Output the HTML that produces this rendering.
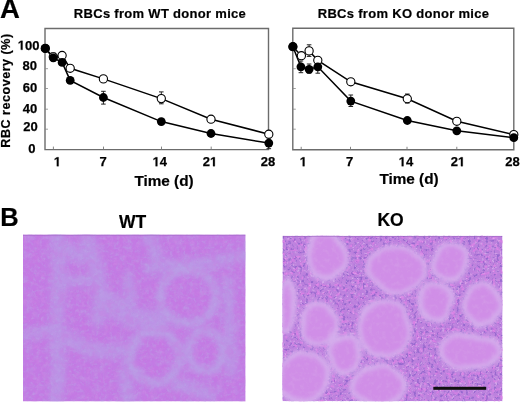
<!DOCTYPE html>
<html><head><meta charset="utf-8"><style>
html,body{margin:0;padding:0;background:#fff;width:520px;height:403px;overflow:hidden}
svg{position:absolute;left:0;top:0;will-change:transform}
text{font-family:"Liberation Sans",sans-serif;font-weight:bold;fill:#000}
</style></head><body>
<svg width="520" height="403" viewBox="0 0 520 403">
<defs>
<clipPath id="cw"><rect x="23" y="234.5" width="222.6" height="167"/></clipPath>
<clipPath id="ck"><rect x="282.5" y="235.8" width="220" height="165.4"/></clipPath>
<filter id="bl" x="-30%" y="-30%" width="160%" height="160%"><feGaussianBlur stdDeviation="2.5"/></filter>
<filter id="bl2" x="-30%" y="-30%" width="160%" height="160%"><feGaussianBlur stdDeviation="3.5"/></filter>
<filter id="nz" x="0" y="0" width="100%" height="100%" color-interpolation-filters="sRGB"><feTurbulence type="fractalNoise" baseFrequency="0.35" numOctaves="2" seed="3"/><feColorMatrix type="matrix" values="0 0 0 0 0.42  0 0 0 0 0.3  0 0 0 0 0.74  -7 0 0 0 3.1"/><feGaussianBlur stdDeviation="0.5"/></filter>
<filter id="nz2" x="0" y="0" width="100%" height="100%" color-interpolation-filters="sRGB"><feTurbulence type="fractalNoise" baseFrequency="0.4" numOctaves="2" seed="7"/><feColorMatrix type="matrix" values="0 0 0 0 0.9  0 0 0 0 0.76  0 0 0 0 0.95  6 0 0 0 -3.6"/></filter>
<filter id="nz4" x="0" y="0" width="100%" height="100%" color-interpolation-filters="sRGB"><feTurbulence type="fractalNoise" baseFrequency="0.25" numOctaves="2" seed="5"/><feColorMatrix type="matrix" values="0 0 0 0 0.85  0 0 0 0 0.5  0 0 0 0 0.9  5 0 0 0 -2.7"/></filter>
<filter id="nz3" x="0" y="0" width="100%" height="100%" color-interpolation-filters="sRGB"><feTurbulence type="fractalNoise" baseFrequency="0.3" numOctaves="2" seed="11"/><feColorMatrix type="matrix" values="0 0 0 0 0.72  0 0 0 0 0.66  0 0 0 0 0.9  5 0 0 0 -2.6"/></filter>
<filter id="nz5" x="0" y="0" width="100%" height="100%" color-interpolation-filters="sRGB"><feTurbulence type="fractalNoise" baseFrequency="0.22" numOctaves="3" seed="17"/><feColorMatrix type="matrix" values="0 0 0 0 0.86  0 0 0 0 0.7  0 0 0 0 0.92  2.5 0 0 0 -1.1"/><feGaussianBlur stdDeviation="0.6"/></filter>
<filter id="nz6" x="0" y="0" width="100%" height="100%" color-interpolation-filters="sRGB"><feTurbulence type="fractalNoise" baseFrequency="0.12" numOctaves="3" seed="21"/><feColorMatrix type="matrix" values="0 0 0 0 0.74  0 0 0 0 0.64  0 0 0 0 0.9  4 0 0 0 -1.9"/></filter>
<filter id="nz7" x="0" y="0" width="100%" height="100%" color-interpolation-filters="sRGB"><feTurbulence type="fractalNoise" baseFrequency="0.12" numOctaves="3" seed="33"/><feColorMatrix type="matrix" values="0 0 0 0 0.8  0 0 0 0 0.46  0 0 0 0 0.88  4 0 0 0 -1.9"/></filter>
<filter id="blw" x="-5%" y="-5%" width="110%" height="110%"><feTurbulence type="fractalNoise" baseFrequency="0.04" numOctaves="2" seed="9" result="t"/><feDisplacementMap in="SourceGraphic" in2="t" scale="9" xChannelSelector="R" yChannelSelector="G"/><feGaussianBlur stdDeviation="2.3"/></filter>
</defs>
<g clip-path="url(#cw)">
<rect x="23" y="234.5" width="222.6" height="167" fill="rgb(195,123,228)"/>
<rect x="23" y="234.5" width="222.6" height="167" filter="url(#nz5)" opacity="0.2"/>
<g filter="url(#bl2)" fill="none" stroke="rgb(184,160,230)" stroke-linecap="round" stroke-linejoin="round" opacity="0.65">
<path d="M57,236 L59,270 L58,300 L56,330 L59,366 L56,402" stroke-width="14"/>
<path d="M86,236 L95,262 L101,290 L98,320" stroke-width="14"/>
<path d="M59,282 L101,280" stroke-width="12"/>
<path d="M66,250 L90,258" stroke-width="16"/>
<path d="M150,268 L200,264 L246,256" stroke-width="13"/>
<path d="M105,300 L132,318 L160,322" stroke-width="21"/>
<path d="M60,335 L95,352 L128,350" stroke-width="15"/>
<path d="M228,282 L231,372" stroke-width="12"/>
<path d="M125,372 L128,402" stroke-width="13"/>
<path d="M176,384 L210,394" stroke-width="15"/>
<path d="M23,336 L50,331" stroke-width="10"/>
<path d="M150,236 L158,262" stroke-width="13"/>
<path d="M128,278 L131,300" stroke-width="12"/>
</g>
<g filter="url(#bl)" fill="none" stroke="rgb(186,160,230)" opacity="0.8">
<ellipse cx="188" cy="296.5" rx="28" ry="27" stroke-width="9"/>
<ellipse cx="155" cy="357" rx="25" ry="26" stroke-width="9"/>
<ellipse cx="206" cy="351" rx="17" ry="20" stroke-width="9"/>
</g>
<rect x="23" y="234.5" width="222.6" height="167" filter="url(#nz3)" opacity="0.3"/>
<rect x="23" y="234.5" width="222.6" height="167" filter="url(#nz6)" opacity="0.25"/>
<rect x="23" y="234.5" width="222.6" height="167" filter="url(#nz7)" opacity="0.25"/>
<rect x="23" y="234.5" width="222.6" height="1.2" fill="rgb(150,95,190)" opacity="0.5"/>
</g>
<g clip-path="url(#ck)">
<rect x="282.5" y="235.8" width="220" height="165.4" fill="rgb(188,128,222)"/>
<rect x="282.5" y="235.8" width="220" height="165.4" filter="url(#nz4)"/>
<rect x="282.5" y="235.8" width="220" height="165.4" filter="url(#nz)" opacity="0.45"/>
<rect x="282.5" y="235.8" width="220" height="165.4" filter="url(#nz2)" opacity="0.55"/>
<g filter="url(#blw)"><ellipse cx="326" cy="255" rx="21.0" ry="25.0" fill="rgb(212,174,236)"/><ellipse cx="397" cy="269" rx="31.0" ry="25.0" fill="rgb(212,174,236)"/><ellipse cx="451" cy="261" rx="20.0" ry="21.0" fill="rgb(212,174,236)"/><ellipse cx="482" cy="304" rx="21.0" ry="24.0" fill="rgb(212,174,236)"/><ellipse cx="436" cy="302" rx="18.0" ry="21.0" fill="rgb(212,174,236)"/><ellipse cx="319" cy="324" rx="19.0" ry="22.0" fill="rgb(212,174,236)"/><ellipse cx="385" cy="329" rx="28.0" ry="31.0" fill="rgb(212,174,236)"/><ellipse cx="470" cy="351" rx="32.5" ry="19.0" fill="rgb(212,174,236)"/><ellipse cx="303" cy="377" rx="27.0" ry="27.0" fill="rgb(212,174,236)"/><ellipse cx="379" cy="386" rx="28.0" ry="22.0" fill="rgb(212,174,236)"/><ellipse cx="344" cy="354" rx="18.0" ry="21.0" fill="rgb(212,174,236)"/><ellipse cx="287" cy="307" rx="10.0" ry="28.0" fill="rgb(212,174,236)"/></g>
<g filter="url(#blw)"><ellipse cx="326" cy="255" rx="16.0" ry="20.0" fill="rgb(208,142,231)"/><ellipse cx="397" cy="269" rx="26.0" ry="20.0" fill="rgb(208,142,231)"/><ellipse cx="451" cy="261" rx="15.0" ry="16.0" fill="rgb(208,142,231)"/><ellipse cx="482" cy="304" rx="16.0" ry="19.0" fill="rgb(208,142,231)"/><ellipse cx="436" cy="302" rx="13.0" ry="16.0" fill="rgb(208,142,231)"/><ellipse cx="319" cy="324" rx="14.0" ry="17.0" fill="rgb(208,142,231)"/><ellipse cx="385" cy="329" rx="23.0" ry="26.0" fill="rgb(208,142,231)"/><ellipse cx="470" cy="351" rx="27.5" ry="14.0" fill="rgb(208,142,231)"/><ellipse cx="303" cy="377" rx="22.0" ry="22.0" fill="rgb(208,142,231)"/><ellipse cx="379" cy="386" rx="23.0" ry="17.0" fill="rgb(208,142,231)"/><ellipse cx="344" cy="354" rx="13.0" ry="16.0" fill="rgb(208,142,231)"/><ellipse cx="287" cy="307" rx="5.0" ry="23.0" fill="rgb(208,142,231)"/></g>
<rect x="282.5" y="235.8" width="220" height="165.4" filter="url(#nz5)" opacity="0.25"/>
<rect x="282.5" y="235.8" width="220" height="1.2" fill="rgb(150,95,190)" opacity="0.5"/>
<rect x="433.3" y="386.8" width="52.9" height="3" fill="#111"/>
</g>
<path d="M45,28.5H268.5V149.6H45Z" fill="none" stroke="#6c6c6c" stroke-width="1.4"/>
<path d="M53.4,149.6v-3" stroke="#777" stroke-width="0.9"/>
<path d="M103.5,149.6v-3" stroke="#777" stroke-width="0.9"/>
<path d="M161.5,149.6v-3" stroke="#777" stroke-width="0.9"/>
<path d="M211.2,149.6v-3" stroke="#777" stroke-width="0.9"/>
<path d="M45,129.2h3" stroke="#888" stroke-width="0.8"/>
<path d="M45,109.2h3" stroke="#888" stroke-width="0.8"/>
<path d="M45,88.5h3" stroke="#888" stroke-width="0.8"/>
<path d="M45,68.7h3" stroke="#888" stroke-width="0.8"/>
<path d="M53.3,53V61M51.0,53h4.6M51.0,61h4.6" stroke="#222" stroke-width="1" fill="none"/>
<path d="M103.4,91.3V104.1M101.10000000000001,91.3h4.6M101.10000000000001,104.1h4.6" stroke="#222" stroke-width="1" fill="none"/>
<path d="M161.3,91.9V103.8M159.0,91.9h4.6M159.0,103.8h4.6" stroke="#222" stroke-width="1" fill="none"/>
<path d="M268.8,138V148.7M266.5,138h4.6M266.5,148.7h4.6" stroke="#222" stroke-width="1" fill="none"/>
<polyline points="45.3,48.4 53.3,56.8 62.1,55.5 70.2,68.3 103.4,78.9 161.3,98.6 211,119.2 268.8,134.2" fill="none" stroke="#000" stroke-width="1.5"/>
<polyline points="45.3,48.4 53.3,57.8 62.1,62.4 70.2,80.4 103.4,97.5 161.3,121.6 211,133.5 268.8,143.1" fill="none" stroke="#000" stroke-width="1.5"/>
<circle cx="45.3" cy="48.4" r="4.1" fill="#fff" stroke="#000" stroke-width="1.1"/>
<circle cx="53.3" cy="56.8" r="4.1" fill="#fff" stroke="#000" stroke-width="1.1"/>
<circle cx="62.1" cy="55.5" r="4.1" fill="#fff" stroke="#000" stroke-width="1.1"/>
<circle cx="70.2" cy="68.3" r="4.1" fill="#fff" stroke="#000" stroke-width="1.1"/>
<circle cx="103.4" cy="78.9" r="4.1" fill="#fff" stroke="#000" stroke-width="1.1"/>
<circle cx="161.3" cy="98.6" r="4.1" fill="#fff" stroke="#000" stroke-width="1.1"/>
<circle cx="211" cy="119.2" r="4.1" fill="#fff" stroke="#000" stroke-width="1.1"/>
<circle cx="268.8" cy="134.2" r="4.1" fill="#fff" stroke="#000" stroke-width="1.1"/>
<circle cx="45.3" cy="48.4" r="4.3999999999999995" fill="#000"/>
<circle cx="53.3" cy="57.8" r="4.3999999999999995" fill="#000"/>
<circle cx="62.1" cy="62.4" r="4.3999999999999995" fill="#000"/>
<circle cx="70.2" cy="80.4" r="4.3999999999999995" fill="#000"/>
<circle cx="103.4" cy="97.5" r="4.3999999999999995" fill="#000"/>
<circle cx="161.3" cy="121.6" r="4.3999999999999995" fill="#000"/>
<circle cx="211" cy="133.5" r="4.3999999999999995" fill="#000"/>
<circle cx="268.8" cy="143.1" r="4.3999999999999995" fill="#000"/>
<path d="M292.8,28.3H513.8V149.8H292.8Z" fill="none" stroke="#6c6c6c" stroke-width="1.4"/>
<path d="M301.2,149.8v-3" stroke="#777" stroke-width="0.9"/>
<path d="M350.5,149.8v-3" stroke="#777" stroke-width="0.9"/>
<path d="M407,149.8v-3" stroke="#777" stroke-width="0.9"/>
<path d="M456.8,149.8v-3" stroke="#777" stroke-width="0.9"/>
<path d="M292.8,129.2h3" stroke="#888" stroke-width="0.8"/>
<path d="M292.8,109.2h3" stroke="#888" stroke-width="0.8"/>
<path d="M292.8,88.5h3" stroke="#888" stroke-width="0.8"/>
<path d="M292.8,68.7h3" stroke="#888" stroke-width="0.8"/>
<path d="M309.1,44.8V56.4M306.8,44.8h4.6M306.8,56.4h4.6" stroke="#222" stroke-width="1" fill="none"/>
<path d="M309.1,64V73.2M306.8,64h4.6M306.8,73.2h4.6" stroke="#222" stroke-width="1" fill="none"/>
<path d="M300.9,61V72.7M298.59999999999997,61h4.6M298.59999999999997,72.7h4.6" stroke="#222" stroke-width="1" fill="none"/>
<path d="M317.8,61V73.2M315.5,61h4.6M315.5,73.2h4.6" stroke="#222" stroke-width="1" fill="none"/>
<path d="M350.8,95V106.5M348.5,95h4.6M348.5,106.5h4.6" stroke="#222" stroke-width="1" fill="none"/>
<path d="M407.3,94V103.1M405.0,94h4.6M405.0,103.1h4.6" stroke="#222" stroke-width="1" fill="none"/>
<polyline points="292.9,46.7 301.4,55.7 309.1,50.9 317.8,60.3 350.8,81.8 407.3,98.7 456.8,121.3 513.8,134.6" fill="none" stroke="#000" stroke-width="1.5"/>
<polyline points="292.9,46.7 300.9,66.8 309.1,69.3 317.8,66.8 350.8,101.1 407.3,120.5 456.8,130.8 513.8,137.7" fill="none" stroke="#000" stroke-width="1.5"/>
<circle cx="292.9" cy="46.7" r="4.1" fill="#fff" stroke="#000" stroke-width="1.1"/>
<circle cx="301.4" cy="55.7" r="4.1" fill="#fff" stroke="#000" stroke-width="1.1"/>
<circle cx="309.1" cy="50.9" r="4.1" fill="#fff" stroke="#000" stroke-width="1.1"/>
<circle cx="317.8" cy="60.3" r="4.1" fill="#fff" stroke="#000" stroke-width="1.1"/>
<circle cx="350.8" cy="81.8" r="4.1" fill="#fff" stroke="#000" stroke-width="1.1"/>
<circle cx="407.3" cy="98.7" r="4.1" fill="#fff" stroke="#000" stroke-width="1.1"/>
<circle cx="456.8" cy="121.3" r="4.1" fill="#fff" stroke="#000" stroke-width="1.1"/>
<circle cx="513.8" cy="134.6" r="4.1" fill="#fff" stroke="#000" stroke-width="1.1"/>
<circle cx="292.9" cy="46.7" r="4.3999999999999995" fill="#000"/>
<circle cx="300.9" cy="66.8" r="4.3999999999999995" fill="#000"/>
<circle cx="309.1" cy="69.3" r="4.3999999999999995" fill="#000"/>
<circle cx="317.8" cy="66.8" r="4.3999999999999995" fill="#000"/>
<circle cx="350.8" cy="101.1" r="4.3999999999999995" fill="#000"/>
<circle cx="407.3" cy="120.5" r="4.3999999999999995" fill="#000"/>
<circle cx="456.8" cy="130.8" r="4.3999999999999995" fill="#000"/>
<circle cx="513.8" cy="137.7" r="4.3999999999999995" fill="#000"/>
<text x="0" y="18" font-size="27.5" text-anchor="start" stroke="#000" stroke-width="0.2" >A</text>
<text x="0.3" y="225.9" font-size="25.5" text-anchor="start" stroke="#000" stroke-width="0.2" >B</text>
<text x="160" y="18.1" font-size="13" text-anchor="middle" stroke="#000" stroke-width="0.2" letter-spacing="0.3">RBCs from WT donor mice</text>
<text x="403.5" y="18.1" font-size="13" text-anchor="middle" stroke="#000" stroke-width="0.2" letter-spacing="0.3">RBCs from KO donor mice</text>
<path d="M478,0L478,1170L140,959L140,1180L493,1409L759,1409L759,0Z" transform="translate(17.76 49.8) scale(0.00635 -0.00635)" fill="#000" stroke="#000" stroke-width="39.4"/>
<text x="24.99" y="49.8" font-size="13" text-anchor="start" stroke="#000" stroke-width="0.25">0</text>
<text x="32.21" y="49.8" font-size="13" text-anchor="start" stroke="#000" stroke-width="0.25">0</text>
<text x="22.42" y="70.4" font-size="13" text-anchor="start" stroke="#000" stroke-width="0.25">8</text>
<text x="29.65" y="70.4" font-size="13" text-anchor="start" stroke="#000" stroke-width="0.25">0</text>
<text x="22.77" y="92.4" font-size="13" text-anchor="start" stroke="#000" stroke-width="0.25">6</text>
<text x="30.00" y="92.4" font-size="13" text-anchor="start" stroke="#000" stroke-width="0.25">0</text>
<text x="22.67" y="112.6" font-size="13" text-anchor="start" stroke="#000" stroke-width="0.25">4</text>
<text x="29.90" y="112.6" font-size="13" text-anchor="start" stroke="#000" stroke-width="0.25">0</text>
<text x="23.17" y="131.4" font-size="13" text-anchor="start" stroke="#000" stroke-width="0.25">2</text>
<text x="30.40" y="131.4" font-size="13" text-anchor="start" stroke="#000" stroke-width="0.25">0</text>
<text x="28.19" y="153.3" font-size="13" text-anchor="start" stroke="#000" stroke-width="0.25">0</text>
<path d="M478,0L478,1170L140,959L140,1180L493,1409L759,1409L759,0Z" transform="translate(53.79 166.2) scale(0.00635 -0.00635)" fill="#000" stroke="#000" stroke-width="39.4"/>
<text x="99.39" y="166.2" font-size="13" text-anchor="start" stroke="#000" stroke-width="0.25">7</text>
<path d="M478,0L478,1170L140,959L140,1180L493,1409L759,1409L759,0Z" transform="translate(152.57 166.2) scale(0.00635 -0.00635)" fill="#000" stroke="#000" stroke-width="39.4"/>
<text x="159.80" y="166.2" font-size="13" text-anchor="start" stroke="#000" stroke-width="0.25">4</text>
<text x="202.77" y="166.2" font-size="13" text-anchor="start" stroke="#000" stroke-width="0.25">2</text>
<path d="M478,0L478,1170L140,959L140,1180L493,1409L759,1409L759,0Z" transform="translate(210.00 166.2) scale(0.00635 -0.00635)" fill="#000" stroke="#000" stroke-width="39.4"/>
<text x="260.77" y="166.2" font-size="13" text-anchor="start" stroke="#000" stroke-width="0.25">2</text>
<text x="268.00" y="166.2" font-size="13" text-anchor="start" stroke="#000" stroke-width="0.25">8</text>
<path d="M478,0L478,1170L140,959L140,1180L493,1409L759,1409L759,0Z" transform="translate(299.69 166.2) scale(0.00635 -0.00635)" fill="#000" stroke="#000" stroke-width="39.4"/>
<text x="345.89" y="166.2" font-size="13" text-anchor="start" stroke="#000" stroke-width="0.25">7</text>
<path d="M478,0L478,1170L140,959L140,1180L493,1409L759,1409L759,0Z" transform="translate(398.67 166.2) scale(0.00635 -0.00635)" fill="#000" stroke="#000" stroke-width="39.4"/>
<text x="405.90" y="166.2" font-size="13" text-anchor="start" stroke="#000" stroke-width="0.25">4</text>
<text x="450.67" y="166.2" font-size="13" text-anchor="start" stroke="#000" stroke-width="0.25">2</text>
<path d="M478,0L478,1170L140,959L140,1180L493,1409L759,1409L759,0Z" transform="translate(457.90 166.2) scale(0.00635 -0.00635)" fill="#000" stroke="#000" stroke-width="39.4"/>
<text x="505.27" y="166.2" font-size="13" text-anchor="start" stroke="#000" stroke-width="0.25">2</text>
<text x="512.50" y="166.2" font-size="13" text-anchor="start" stroke="#000" stroke-width="0.25">8</text>
<text x="164" y="185.7" font-size="15.3" text-anchor="middle" stroke="#000" stroke-width="0.2" >Time (d)</text>
<text x="409" y="183.5" font-size="15.3" text-anchor="middle" stroke="#000" stroke-width="0.2" >Time (d)</text>
<text x="9.8" y="90.5" font-size="12.5" text-anchor="middle" stroke="#000" stroke-width="0.2" letter-spacing="0.55" transform="rotate(-90 9.8 90.5)">RBC recovery (%)</text>
<text x="132.5" y="227.5" font-size="17.5" text-anchor="middle" stroke="#000" stroke-width="0.2" >WT</text>
<text x="390.5" y="225.8" font-size="17.5" text-anchor="middle" stroke="#000" stroke-width="0.2" >KO</text>
</svg>
</body></html>
